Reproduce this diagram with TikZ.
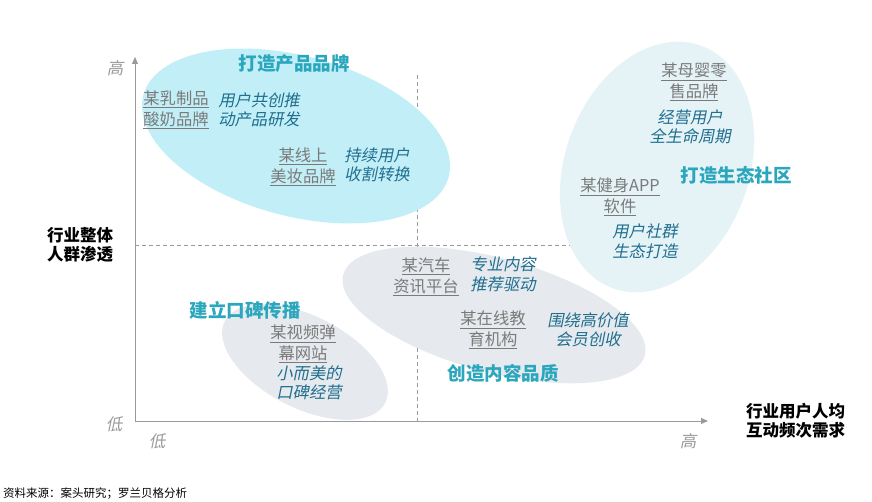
\documentclass[tikz,border=0pt]{standalone}
\usepackage{fontspec}
\setmainfont{Noto Sans CJK SC}
\newfontfamily\cjk{Noto Sans CJK SC}
\newfontfamily\cjkit[FakeSlant=0.2]{Noto Sans CJK SC}
\usetikzlibrary{arrows.meta}
\definecolor{cyanfill}{HTML}{C2EFF7}
\definecolor{palefill}{HTML}{E5F3F7}
\definecolor{grayfill}{HTML}{E6E9ED}
\definecolor{titlecol}{HTML}{2AA6BD}
\definecolor{itcol}{HTML}{1F6E8E}
\definecolor{brandcol}{HTML}{7A7A7A}
\definecolor{axiscol}{HTML}{9A9A9A}
\tikzset{
  x=1pt, y=1pt,
  title/.style={font=\cjk\bfseries\fontsize{18.5}{22}\selectfont, text=titlecol, inner sep=0pt},
  brand/.style={font=\cjk\fontsize{16.3}{20.5}\selectfont, text=brandcol, align=center, inner sep=0pt},
  strat/.style={font=\cjkit\fontsize{16.3}{19.5}\selectfont, text=itcol, align=center, inner sep=0pt},
  tick/.style={font=\cjkit\fontsize{16.5}{20}\selectfont, text=axiscol, inner sep=0pt},
  axlabel/.style={font=\cjk\bfseries\fontsize{16.5}{18.5}\selectfont, text=black, align=left, inner sep=0pt},
  grid/.style={draw=axiscol, dashed, line width=0.7pt, dash pattern=on 4pt off 3pt},
  axis/.style={draw=axiscol, line width=1pt, -{Triangle[length=7pt,width=6pt]}},
}
\newcommand{\ul}[1]{\underline{#1}}
\begin{document}
\begin{tikzpicture}
\useasboundingbox[fill=white] (0,0) rectangle (872,-502);
% coordinates
\coordinate (O) at (135,-421);
\coordinate (Ytop) at (135,-57);
\coordinate (Xend) at (708,-421);
\coordinate (H1) at (135,-245);
\coordinate (H2) at (705,-245);
\coordinate (V1) at (417,-75);
\coordinate (V2) at (417,-421);
% dashed grid
\draw[grid] (H1) -- (H2);
\draw[grid] (V1) -- (V2);
% ellipses
\fill[cyanfill, rotate around={-15:(296,-136)}] (296,-136) ellipse [x radius=158, y radius=80];
\fill[palefill, rotate around={-20:(657,-167)}] (657,-167) ellipse [x radius=92, y radius=129];
\fill[grayfill, rotate around={-15:(494,-315)}] (494,-315) ellipse [x radius=156, y radius=57];
\fill[grayfill, rotate around={-27:(305,-362)}] (305,-362) ellipse [x radius=90, y radius=46];
% axes
\draw[axis] (O) -- (Ytop);
\draw[axis] (O) -- (Xend);
% ticks
\node[tick] (yhi) at (115,-68) {高};
\node[tick] (ylo) at (114,-424) {低};
\node[tick] (xlo) at (157,-441) {低};
\node[tick] (xhi) at (688,-441) {高};
% axis labels
\node[axlabel] (ylab) at (80,-245) {行业整体\\人群渗透};
\node[axlabel, anchor=west] (xlab) at (746,-421) {行业用户人均\\互动频次需求};
\node[font=\cjk\fontsize{11.5}{13}\selectfont, anchor=west, inner sep=0pt] (src) at (3,-494) {资料来源：案头研究；罗兰贝格分析};
% ellipse 1
\node[title] (t1) at (294,-64) {打造产品品牌};
\node[brand] (b1) at (176,-110) {\ul{某乳制品}\\\ul{酸奶品牌}};
\node[strat] (s1) at (259,-110) {用户共创推\\动产品研发};
\node[brand] (b2) at (303,-167) {\ul{某线上}\\\ul{美妆品牌}};
\node[strat] (s2) at (377,-165) {持续用户\\收割转换};
% ellipse 2
\node[brand] (b3) at (694,-82) {\ul{某母婴零}\\\ul{售品牌}};
\node[strat] (s3) at (690,-127) {经营用户\\全生命周期};
\node[title] (t2) at (736,-175) {打造生态社区};
\node[brand] (b4) at (620,-197) {\ul{某健身APP}\\\ul{软件}};
\node[strat] (s4) at (645,-241) {用户社群\\生态打造};
% ellipse 3
\node[brand] (b5) at (426,-277) {\ul{某汽车}\\\ul{资讯平台}};
\node[strat] (s5) at (503,-274) {专业内容\\推荐驱动};
\node[brand] (b6) at (493,-330) {\ul{某在线教}\\\ul{育机构}};
\node[strat] (s6) at (588,-330) {围绕高价值\\会员创收};
\node[title] (t3) at (503,-373) {创造内容品质};
% ellipse 4
\node[title] (t4) at (245,-310) {建立口碑传播};
\node[brand] (b7) at (303,-344) {\ul{某视频弹}\\\ul{幕网站}};
\node[strat] (s7) at (309,-383) {小而美的\\口碑经营};
\end{tikzpicture}
\end{document}
